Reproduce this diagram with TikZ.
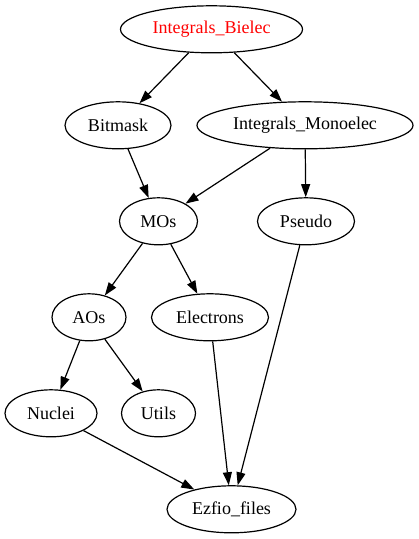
\documentclass[tikz,border=0pt]{standalone}
\usepackage{fontspec}
\setmainfont{Liberation Serif}
\usetikzlibrary{arrows.meta,shapes.geometric}

\begin{document}
\begin{tikzpicture}[
  x=1pt, y=-1pt,
  mod/.style={ellipse, draw, line width=1.2pt, inner sep=0pt,
              minimum height=47pt, font=\fontsize{18}{20}\selectfont},
  edge/.style={-{Triangle[length=13pt,width=9pt]}, line width=1.2pt}
]
  \useasboundingbox (0,0) rectangle (419,539);

  \node[mod, minimum width=182pt, text=red] (bielec) at (211.5, 29.3) {Integrals\_Bielec};
  \node[mod, minimum width=106pt] (bitmask) at (118, 125.3) {Bitmask};
  \node[mod, minimum width=216pt] (mono) at (305, 125.3) {Integrals\_Monoelec};
  \node[mod, minimum width=78pt]  (mos) at (158.5, 221.3) {MOs};
  \node[mod, minimum width=97pt]  (pseudo) at (306, 221.3) {Pseudo};
  \node[mod, minimum width=74pt]  (aos) at (89, 317.3) {AOs};
  \node[mod, minimum width=117pt] (electrons) at (210, 317.3) {Electrons};
  \node[mod, minimum width=92pt]  (nuclei) at (51, 413.3) {Nuclei};
  \node[mod, minimum width=74pt]  (utils) at (158.5, 413.3) {Utils};
  \node[mod, minimum width=129pt] (ezfio) at (231.5, 509.3) {Ezfio\_files};

  \draw[edge] (bielec) -- (bitmask);
  \draw[edge] (bielec) -- (mono);
  \draw[edge] (bitmask) -- (mos);
  \draw[edge] (mono) -- (mos);
  \draw[edge] (mono) -- (pseudo);
  \draw[edge] (mos) -- (aos);
  \draw[edge] (mos) -- (electrons);
  \draw[edge] (pseudo) -- (ezfio);
  \draw[edge] (aos) -- (nuclei);
  \draw[edge] (aos) -- (utils);
  \draw[edge] (electrons) -- (ezfio);
  \draw[edge] (nuclei) -- (ezfio);
\end{tikzpicture}
\end{document}
